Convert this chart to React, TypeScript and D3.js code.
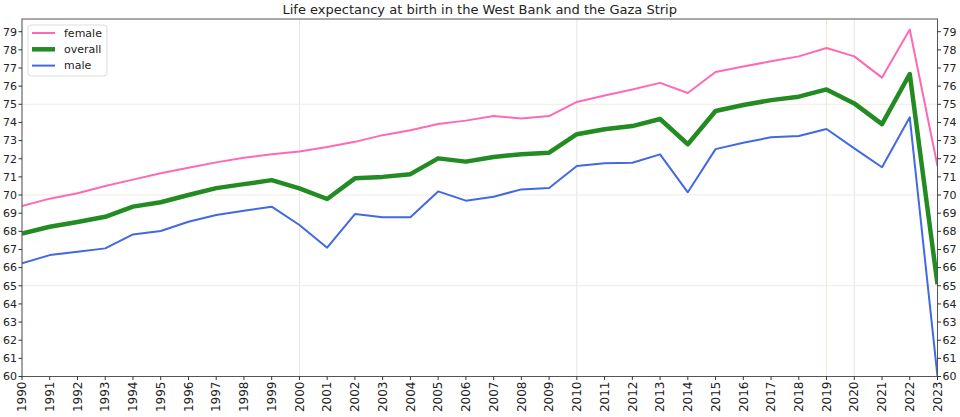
import React from "react";
import * as d3 from "d3";

const years: number[] = d3.range(1990, 2024);
const female: number[] = [69.4, 69.8, 70.1, 70.5, 70.85, 71.2, 71.5, 71.8, 72.05, 72.25, 72.4, 72.65, 72.93, 73.3, 73.57, 73.91, 74.1, 74.35, 74.22, 74.35, 75.13, 75.48, 75.82, 76.18, 75.62, 76.78, 77.08, 77.37, 77.64, 78.1, 77.64, 76.47, 79.12, 71.6];
const overall: number[] = [67.88, 68.25, 68.51, 68.8, 69.36, 69.6, 70.0, 70.38, 70.6, 70.82, 70.37, 69.78, 70.92, 71.0, 71.15, 72.02, 71.84, 72.1, 72.25, 72.33, 73.35, 73.62, 73.8, 74.19, 72.8, 74.63, 74.96, 75.23, 75.42, 75.82, 75.05, 73.91, 76.67, 65.08];
const male: number[] = [66.24, 66.69, 66.88, 67.06, 67.83, 68.02, 68.53, 68.9, 69.13, 69.36, 68.35, 67.1, 68.95, 68.77, 68.77, 70.2, 69.69, 69.91, 70.31, 70.39, 71.6, 71.75, 71.78, 72.24, 70.15, 72.53, 72.88, 73.18, 73.25, 73.64, 72.57, 71.53, 74.28, 60.0];
const yTicks: number[] = d3.range(60, 80);
const seriesNames: string[] = ["female", "overall", "male"];
const seriesColors: string[] = ["#ff69b4", "#228b22", "#4169e1"];
const seriesWidths: number[] = [2, 4.5, 2];
const titleText = "Life expectancy at birth in the West Bank and the Gaza Strip";

const W = 960, H = 417;
const L = 22, R = 937.5, T = 19, B = 376.5;
const FONT = "DejaVu Sans, sans-serif";

export default function App() {
  const x = d3.scaleLinear().domain([1990, 2023]).range([L, R]);
  const y = d3.scaleLinear().domain([60, 79.7]).range([B, T]);
  const data = [female, overall, male];
  const line = (vals: number[]) =>
    d3.line<number>().x((_, i) => x(years[i])).y((v) => y(v))(vals) || "";
  return (
    <svg width={W} height={H} style={{ position: "absolute", left: 0, top: 0, background: "#fff" }} fontFamily={FONT}>
      <rect x={0} y={0} width={W} height={H} fill="#fff" />
      {/* grid */}
      {[1990, 2000, 2010, 2020].map((yr) => (
        <line key={"gv" + yr} x1={x(yr)} x2={x(yr)} y1={T} y2={B} stroke="#e6e6e6" strokeWidth={1} />
      ))}
      <line x1={x(2019)} x2={x(2019)} y1={T} y2={B} stroke="#f3e8d2" strokeWidth={1} />
      {[65, 70, 75].map((v) => (
        <line key={"gh" + v} x1={L} x2={R} y1={y(v)} y2={y(v)} stroke="#efebe3" strokeWidth={1} />
      ))}
      {/* lines */}
      <g clipPath="url(#clip)">
        {data.map((vals, k) => (
          <path key={seriesNames[k]} d={line(vals)} fill="none" stroke={seriesColors[k]} strokeWidth={seriesWidths[k]} strokeLinejoin="round" />
        ))}
      </g>
      <defs>
        <clipPath id="clip">
          <rect x={L} y={T} width={R - L} height={B - T} />
        </clipPath>
      </defs>
      {/* spines */}
      <rect x={L} y={T} width={R - L} height={B - T} fill="none" stroke="#555" strokeWidth={1} />
      {/* y ticks */}
      {yTicks.map((v) => (
        <g key={"yt" + v}>
          <line x1={L - 3.5} x2={L} y1={y(v)} y2={y(v)} stroke="#333" />
          <text x={L - 5} y={y(v)} dy="0.35em" textAnchor="end" fontSize={11} fill="#222">{v}</text>
          <line x1={R} x2={R + 3.5} y1={y(v)} y2={y(v)} stroke="#333" />
          <text x={R + 5} y={y(v)} dy="0.35em" textAnchor="start" fontSize={11} fill="#222">{v}</text>
        </g>
      ))}
      {/* x ticks */}
      {years.map((yr) => (
        <g key={"xt" + yr}>
          <line x1={x(yr)} x2={x(yr)} y1={B} y2={B + 3.5} stroke="#333" />
          <text transform={`translate(${x(yr)},${B + 5}) rotate(-90)`} dy="0.35em" textAnchor="end" fontSize={12} fill="#222">{yr}</text>
        </g>
      ))}
      {/* title */}
      <text x={(L + R) / 2} y={14} textAnchor="middle" fontSize={13} fill="#222">{titleText}</text>
      {/* legend */}
      <rect x={28} y={25} width={79} height={51} rx={3} fill="#fff" fillOpacity={0.85} stroke="#ddd" />
      {seriesNames.map((name, k) => (
        <g key={"lg" + name}>
          <line x1={32} x2={55} y1={33 + k * 16.3} y2={33 + k * 16.3} stroke={seriesColors[k]} strokeWidth={seriesWidths[k]} />
          <text x={64} y={33 + k * 16.3} dy="0.35em" fontSize={11} fill="#222">{name}</text>
        </g>
      ))}
    </svg>
  );
}
